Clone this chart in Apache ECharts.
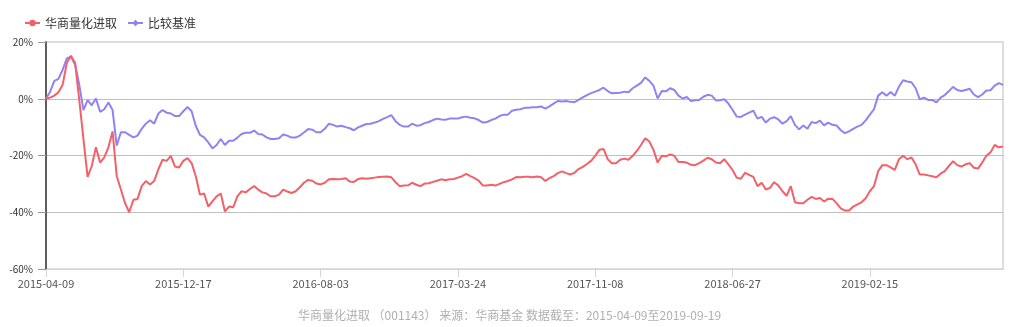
<!DOCTYPE html>
<html>
<head>
<meta charset="utf-8">
<script src="https://cdn.jsdelivr.net/npm/echarts@6/dist/echarts.min.js"></script>
<style>
html,body{margin:0;padding:0;background:#fff;}
#chart{width:1019px;height:327px;}
</style>
</head>
<body>
<div id="chart"></div>
<script>
const seriesNames = ['华商量化进取', '比较基准'];
const tickDates = ['2015-04-09', '2015-12-17', '2016-08-03', '2017-03-24', '2017-11-08', '2018-06-27', '2019-02-15'];
const pointsPerTick = 33;
const yTicks = [-60, -40, -20, 0, 20];
const caption = '华商量化进取 （001143） 来源：华商基金 数据截至：2015-04-09至2019-09-19';

// 华商量化进取 cumulative return (%)
const fundReturn = [
  0, 0.4, 1.1, 2.3, 4.9, 12.6, 15.2, 12.6, -0.5, -14.2,
  -27.5, -23.7, -17.1, -22.5, -20.7, -17.1, -11.5, -27.3, -32.0, -36.8,
  -40.0, -35.6, -35.3, -30.8, -29.0, -30.2, -29.0, -24.9, -21.5, -21.9,
  -20.1, -23.9, -24.2, -21.9, -20.9, -22.7, -27.3, -33.8, -33.4, -38.0,
  -36.2, -34.4, -33.4, -39.7, -38.0, -38.2, -34.4, -32.6, -33.0, -31.8,
  -30.8, -32.0, -33.0, -33.4, -34.4, -34.4, -33.8, -32.0, -32.7, -33.2,
  -32.6, -31.2, -29.6, -28.6, -28.9, -29.9, -30.2, -29.6, -28.4, -28.3,
  -28.4, -28.3, -28.0, -29.2, -29.3, -28.3, -28.0, -28.2, -28.0, -27.8,
  -27.6, -27.5, -27.4, -27.7, -29.4, -30.8, -30.6, -30.5, -29.6, -30.3,
  -30.8, -29.9, -29.8, -29.3, -28.9, -28.4, -28.7, -28.4, -28.3, -27.8,
  -27.3, -26.5, -27.3, -28.0, -28.9, -30.6, -30.6, -30.3, -30.6, -30.0,
  -29.4, -29.0, -28.4, -27.6, -27.7, -27.5, -27.5, -27.7, -27.4, -27.7,
  -29.0, -28.0, -27.3, -26.2, -25.6, -26.2, -26.7, -26.1, -24.8, -24.0,
  -23.0, -21.9, -20.1, -18.0, -17.7, -21.3, -22.7, -22.7, -21.5, -21.1,
  -21.5, -20.1, -18.4, -16.3, -13.9, -15.1, -18.0, -22.5, -20.1, -20.3,
  -19.6, -20.1, -22.3, -22.3, -22.5, -23.3, -23.4, -22.7, -21.8, -20.8,
  -21.3, -22.5, -22.7, -21.3, -23.1, -25.1, -27.8, -28.2, -26.1, -26.8,
  -27.5, -30.8, -29.6, -32.0, -31.4, -29.4, -30.6, -32.6, -34.2, -30.8,
  -36.5, -36.8, -36.8, -35.6, -34.6, -35.3, -35.0, -36.2, -35.2, -35.3,
  -36.8, -38.6, -39.4, -39.4, -38.0, -37.2, -36.5, -35.1, -32.6, -30.8,
  -25.5, -23.4, -23.4, -24.2, -25.1, -21.3, -20.1, -21.3, -20.7, -23.1,
  -26.7, -26.7, -27.0, -27.3, -27.7, -26.4, -25.5, -23.7, -22.0, -23.4,
  -23.9, -23.1, -22.7, -24.3, -24.6, -22.5, -20.1, -18.9, -16.3, -17.1,
  -16.8
];

// 比较基准 cumulative return (%)
const benchReturn = [
  0, 2.5, 6.3, 7.0, 10.2, 14.2, 14.8, 12.0, 4.9, -4.0,
  -0.5, -2.3, 0.1, -4.6, -3.7, -1.3, -4.0, -16.5, -11.8, -11.8,
  -12.7, -13.6, -13.0, -10.6, -8.8, -7.6, -8.8, -5.2, -4.0, -4.9,
  -5.2, -6.1, -6.1, -4.4, -2.9, -4.4, -9.6, -12.7, -13.6, -15.4,
  -17.5, -16.3, -14.2, -16.3, -14.8, -14.8, -13.7, -12.4, -12.0, -12.0,
  -11.2, -12.4, -12.6, -13.6, -14.2, -14.2, -13.9, -12.6, -13.0, -13.7,
  -13.7, -13.0, -11.9, -10.7, -10.9, -11.8, -11.8, -10.6, -8.8, -9.2,
  -9.8, -9.5, -10.0, -10.4, -11.1, -10.1, -9.5, -8.9, -8.8, -8.4,
  -7.9, -7.1, -6.5, -5.8, -7.9, -9.2, -9.8, -9.8, -8.8, -9.5,
  -9.3, -8.6, -8.2, -7.5, -7.0, -7.3, -7.4, -7.0, -7.0, -7.0,
  -6.5, -6.3, -6.7, -6.9, -7.5, -8.4, -8.2, -7.5, -7.0, -6.1,
  -5.6, -5.6, -4.2, -3.9, -3.7, -3.2, -3.2, -3.0, -3.0, -2.7,
  -3.5, -2.7, -1.7, -0.8, -1.0, -0.8, -1.1, -1.2, -0.4, 0.5,
  1.3, 2.0, 2.5, 3.1, 3.9, 2.7, 1.9, 2.0, 2.1, 2.5,
  2.3, 3.7, 4.6, 5.6, 7.5, 6.3, 4.6, 0.1, 2.7, 2.6,
  3.7, 3.1, 1.1, 0.1, 0.6, -0.8, -0.5, -0.4, 0.7, 1.4,
  1.1, -0.6, -0.5, -0.2, -1.7, -3.9, -6.3, -6.4, -5.6, -4.9,
  -4.2, -7.0, -6.4, -8.4, -7.0, -6.5, -7.3, -8.8, -7.9, -6.1,
  -9.2, -10.8, -9.4, -10.6, -8.2, -8.6, -7.7, -9.4, -8.4, -9.2,
  -9.4, -11.1, -12.1, -11.5, -10.6, -9.8, -9.2, -7.6, -5.6, -3.7,
  1.1, 2.3, 1.1, 2.4, 1.1, 4.3, 6.5, 6.1, 5.8, 3.7,
  -0.2, 0.4, -0.4, -0.4, -1.3, 0.4, 1.3, 2.7, 4.2, 3.1,
  2.7, 3.1, 3.5, 1.5, 0.6, 1.5, 2.9, 3.0, 4.6, 5.5,
  4.9
];

const categories = fundReturn.map((_, i) =>
  i % pointsPerTick === 0 && tickDates[i / pointsPerTick] ? tickDates[i / pointsPerTick] : '');

const FONT = '"Noto Sans CJK SC", "Noto Sans", sans-serif';
const chart = echarts.init(document.getElementById('chart'), null, { renderer: 'canvas' });
chart.setOption({
  animation: false,
  color: ['#f4606a', '#9182f2'],
  textStyle: { fontFamily: FONT },
  title: {
    text: caption,
    left: 'center',
    top: 304,
    textStyle: { fontSize: 12, fontWeight: 'normal', color: '#b0b0b0', fontFamily: FONT }
  },
  legend: {
    left: 19,
    top: 12,
    itemWidth: 15,
    itemHeight: 8,
    itemGap: 10,
    textStyle: { fontSize: 12, color: '#333', fontFamily: FONT },
    data: seriesNames
  },
  grid: {
    left: 46,
    right: 16,
    top: 42,
    bottom: 58,
    show: true,
    borderColor: '#ddd',
    borderWidth: 2,
    backgroundColor: 'transparent'
  },
  xAxis: {
    type: 'category',
    data: categories,
    boundaryGap: false,
    axisLine: { onZero: false, lineStyle: { color: '#ccd6eb', width: 1 } },
    axisTick: { interval: pointsPerTick - 1, length: 8, lineStyle: { color: '#ccd6eb' } },
    axisLabel: { interval: pointsPerTick - 1, color: '#555', fontSize: 11, margin: 9, fontFamily: FONT },
    splitLine: { show: false }
  },
  yAxis: {
    type: 'value',
    min: yTicks[0],
    max: yTicks[yTicks.length - 1],
    interval: 20,
    axisLine: { show: true, lineStyle: { color: '#333', width: 1.5 } },
    axisTick: { show: true, length: 8, lineStyle: { color: '#999' } },
    axisLabel: { formatter: '{value}%', color: '#333', fontSize: 10, margin: 13, fontFamily: FONT },
    splitLine: { show: true, lineStyle: { color: ['transparent', '#c0c0c0', '#c0c0c0', '#c0c0c0', 'transparent'], width: 1 } }
  },
  series: [
    {
      name: seriesNames[0],
      type: 'line',
      data: fundReturn,
      symbol: 'circle',
      symbolSize: 8,
      showSymbol: false,
      lineStyle: { width: 2 },
      z: 3
    },
    {
      name: seriesNames[1],
      type: 'line',
      data: benchReturn,
      symbol: 'diamond',
      symbolSize: 8,
      showSymbol: false,
      lineStyle: { width: 2 },
      z: 2
    }
  ]
});
</script>
</body>
</html>
